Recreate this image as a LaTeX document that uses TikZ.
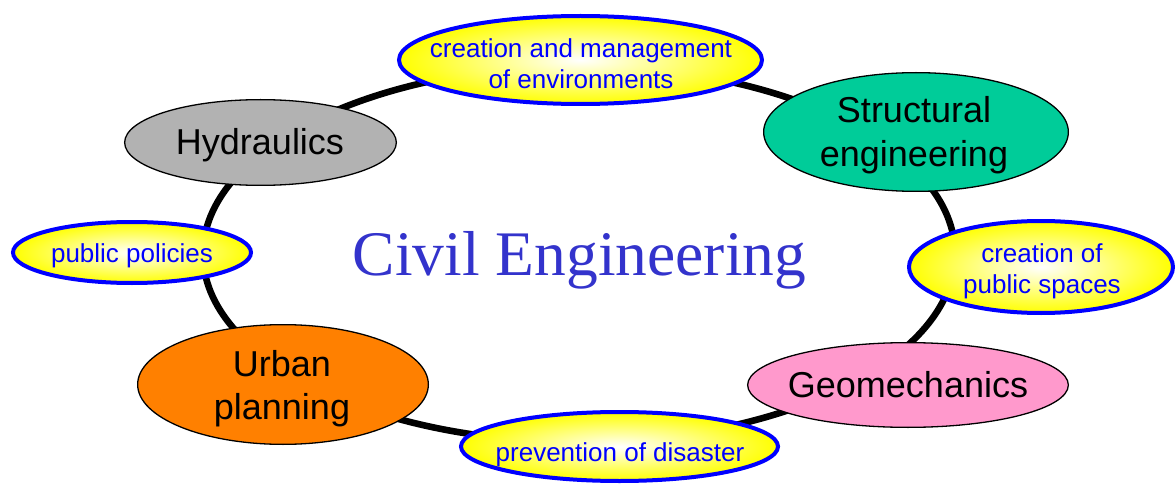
\documentclass[tikz,border=0pt]{standalone}
\usepackage{fontspec}
\setmainfont{Liberation Sans}
\newfontfamily\serifcivil{Liberation Serif}
\usetikzlibrary{shapes.geometric}
\definecolor{hydgray}{HTML}{B2B2B2}
\definecolor{structgreen}{HTML}{00CC99}
\definecolor{geopink}{HTML}{FF99CC}
\definecolor{urbanorange}{HTML}{FF8000}
\definecolor{civilblue}{HTML}{3333CC}
\newcommand{\twolines}[2]{\begin{tabular}[t]{@{}c@{}}#1\\#2\end{tabular}}
\begin{document}
\begin{tikzpicture}[x=1pt,y=-1pt,
  blob/.style={ellipse, draw=black, line width=1.3pt, inner sep=0pt},
  goal/.style={ellipse, draw=blue, line width=4pt, inner sep=0pt, inner color=white, outer color=yellow},
  bigtxt/.style={font=\fontsize{36}{43.5}\selectfont, text=black, inner sep=0pt, anchor=base},
  smalltxt/.style={font=\fontsize{26}{31}\selectfont, text=blue, inner sep=0pt, anchor=base},
  ring/.style={line width=6.6pt, draw=black}]
\useasboundingbox (0,0) rectangle (1176,484);
\coordinate (ringc) at (579,254);
\draw[ring] (ringc) ellipse [x radius=376pt, y radius=188pt];

\node[goal, minimum width=363pt, minimum height=88pt] (env) at (580.5,60) {};
\node[smalltxt] (envt) at (581,58) {\twolines{creation and management}{of environments}};

\node[blob, fill=hydgray, minimum width=271.7pt, minimum height=85.7pt] (hyd) at (260.5,142.5) {};
\node[bigtxt] (hydt) at (260,155) {Hydraulics};

\node[goal, minimum width=238pt, minimum height=61pt] (pol) at (132,252.5) {};
\node[smalltxt] (polt) at (132,262) {public policies};

\node[blob, fill=structgreen, minimum width=304.7pt, minimum height=118.7pt] (str) at (916,132) {};
\node[bigtxt] (strt) at (914,123) {\twolines{Structural}{engineering}};

\node[goal, minimum width=264pt, minimum height=92pt] (pub) at (1041,267) {};
\node[smalltxt] (pubt) at (1042,262) {\twolines{creation of}{public spaces}};

\node[blob, fill=geopink, minimum width=320.7pt, minimum height=84.7pt] (geo) at (908,385) {};
\node[bigtxt] (geot) at (908,397) {Geomechanics};

\node[blob, fill=urbanorange, minimum width=290.7pt, minimum height=119.7pt] (urb) at (283,384.5) {};
\node[bigtxt] (urbt) at (282,376) {\twolines{Urban}{planning}};

\node[goal, minimum width=317pt, minimum height=69pt] (dis) at (619.5,446.5) {};
\node[smalltxt] (dist) at (620,461) {prevention of disaster};

\node[font=\serifcivil\fontsize{63.5}{70}\selectfont, text=civilblue, inner sep=0pt, anchor=base] (civil) at (579.5,275) {Civil Engineering};
\end{tikzpicture}
\end{document}
